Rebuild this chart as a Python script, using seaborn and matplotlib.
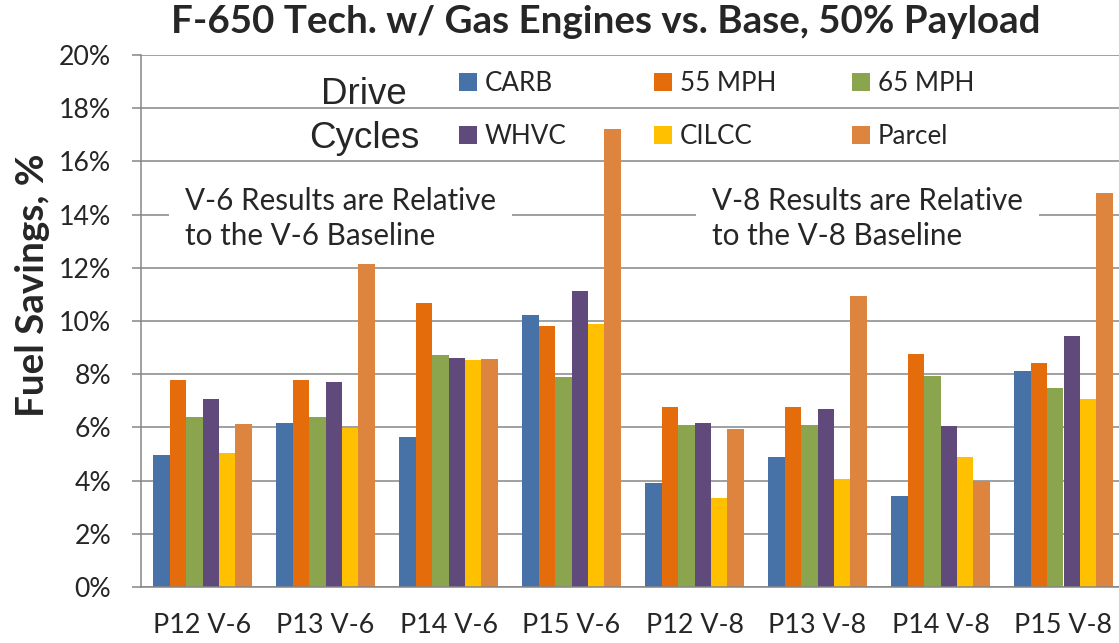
import numpy as np
import pandas as pd
import matplotlib
matplotlib.use("Agg")
import matplotlib.pyplot as plt
import seaborn as sns
from matplotlib.patches import Patch
from matplotlib import font_manager as fm
from matplotlib.ticker import FixedLocator

# ---------------- data ----------------
configs = ["P12 V-6", "P13 V-6", "P14 V-6", "P15 V-6",
           "P12 V-8", "P13 V-8", "P14 V-8", "P15 V-8"]
cycles = ["CARB", "55 MPH", "65 MPH", "WHVC", "CILCC", "Parcel"]
carb   = [4.95, 6.17, 5.65, 10.24, 3.91, 4.87, 3.42, 8.12]
mph55  = [7.80, 7.80, 10.66, 9.83, 6.78, 6.78, 8.76, 8.43]
mph65  = [6.39, 6.39, 8.72, 7.90, 6.09, 6.09, 7.93, 7.47]
whvc   = [7.07, 7.69, 8.60, 11.13, 6.18, 6.68, 6.04, 9.42]
cilcc  = [5.02, 5.96, 8.52, 9.87, 3.35, 4.05, 4.87, 7.07]
parcel = [6.13, 12.14, 8.58, 17.20, 5.95, 10.94, 3.97, 14.80]
colors = ["#4672A8", "#E46C0A", "#8BA54F", "#604A7B", "#FFC000", "#DD843F"]
yticks = list(range(0, 21, 2))
title = "F-650 Tech. w/ Gas Engines vs. Base, 50% Payload"
ylabel = "Fuel Savings, %"
note_v6 = "V-6 Results are Relative\nto the V-6 Baseline"
note_v8 = "V-8 Results are Relative\nto the V-8 Baseline"

series = [carb, mph55, mph65, whvc, cilcc, parcel]
rows = []
for cyc, vals in zip(cycles, series):
    for cfg, v in zip(configs, vals):
        rows.append({"config": cfg, "cycle": cyc, "value": v})
df = pd.DataFrame(rows)

# ---------------- style ----------------
sns.set_theme(style="white")
names = {f.name for f in fm.fontManager.ttflist}
def pick(cands):
    for c in cands:
        if c in names:
            return c
    return "DejaVu Sans"
BODY = pick(["Lato", "Open Sans", "Noto Sans", "DejaVu Sans"])
ARIAL = pick(["Liberation Sans", "Arial", "DejaVu Sans"])
plt.rcParams["font.family"] = [BODY, "DejaVu Sans"]

W, H = 1119, 643
fig = plt.figure(figsize=(W / 100, H / 100), dpi=100)
renderer = fig.canvas.get_renderer()

def fit(s, target, weight="normal", family=None, base=20.0):
    t = fig.text(0, 0, s, fontsize=base, fontweight=weight,
                 family=family or [BODY, "DejaVu Sans"])
    bb = t.get_window_extent(renderer)
    t.remove()
    return base * target / bb.width

fs_xt = fit("P12 V-6", 98)
fs_yt = fit("20%", 52)
fs_leg = fit("CARB", 68)
fs_note = fit("V-6 Results are Relative", 312)
fs_title = fit(title, 868, weight="bold")
fs_ylab = fit(ylabel, 264, weight="bold")
fs_dc = fit("Cycles", 110, family=[ARIAL])

GRAY = "#868686"
x0, x1, y0, y1 = 141, 1125, 587, 55
ax = fig.add_axes([x0 / W, 1 - y0 / H, (x1 - x0) / W, (y0 - y1) / H])

sns.barplot(data=df, x="config", y="value", hue="cycle", order=configs,
            hue_order=cycles, palette=colors, saturation=1, width=0.8,
            legend=False, ax=ax, linewidth=0, zorder=2, errorbar=None)

ax.set_xlim(-0.5, 7.5)
ax.set_ylim(0, 20)
ax.set_yticks(yticks)
ax.set_yticklabels([f"{v}%" for v in yticks], fontsize=fs_yt)
ax.set_xticks(range(len(configs)))
ax.set_xticklabels(configs, fontsize=fs_xt)
ax.xaxis.set_minor_locator(FixedLocator(np.arange(-0.5, 8.0, 1.0)))
ax.tick_params(axis="x", which="major", length=0, pad=19)
ax.tick_params(axis="x", which="minor", length=6, width=1.1, color=GRAY, direction="out")
ax.tick_params(axis="y", which="major", length=6.5, width=1.1, color=GRAY,
               direction="out", pad=15, left=True)
ax.set_xlabel("")
ax.yaxis.grid(True, color=GRAY, lw=1.1)
ax.xaxis.grid(False)
ax.set_axisbelow(True)
for s in ["top", "right"]:
    ax.spines[s].set_visible(False)
for s in ["left", "bottom"]:
    ax.spines[s].set_color(GRAY)
    ax.spines[s].set_linewidth(1.1)

ax.set_ylabel(ylabel, fontsize=fs_ylab, fontweight="bold")
ax.yaxis.label.set_verticalalignment("center")
ax.yaxis.set_label_coords((33 - x0) / (x1 - x0), (y0 - 285) / (y0 - y1))

fig.text(606 / W, 1 - 33 / H, title, ha="center", va="baseline",
         fontsize=fs_title, fontweight="bold")

# notes with white boxes
box = dict(facecolor="white", edgecolor="none", boxstyle="square,pad=0.55")
ax.text(-0.142, 13.85, note_v6, ha="left", va="center", fontsize=fs_note,
        linespacing=1.32, bbox=box, zorder=0.8)
ax.text(4.143, 13.85, note_v8, ha="left", va="center", fontsize=fs_note,
        linespacing=1.32, bbox=box, zorder=0.8)

# Drive Cycles label
fig.text(364 / W, 1 - 104 / H, "Drive", ha="center", va="baseline",
         fontsize=fs_dc, family=[ARIAL])
fig.text(364 / W, 1 - 148 / H, "Cycles", ha="center", va="baseline",
         fontsize=fs_dc, family=[ARIAL])

# legend: three columns of two entries
handles = [Patch(facecolor=c, edgecolor="none", label=l) for c, l in zip(colors, cycles)]
col_x = [459, 654, 852]
fpx = fs_leg * 100 / 72
for i, xpx in enumerate(col_x):
    fig.legend(handles=[handles[i], handles[i + 3]], loc="center left",
               bbox_to_anchor=(xpx / W, 1 - 110 / H), bbox_transform=fig.transFigure,
               frameon=False, borderpad=0, borderaxespad=0,
               handlelength=18 / fpx, handleheight=18 / fpx,
               handletextpad=8 / fpx, labelspacing=1.1, fontsize=fs_leg)

fig.savefig("out.png", dpi=100)
